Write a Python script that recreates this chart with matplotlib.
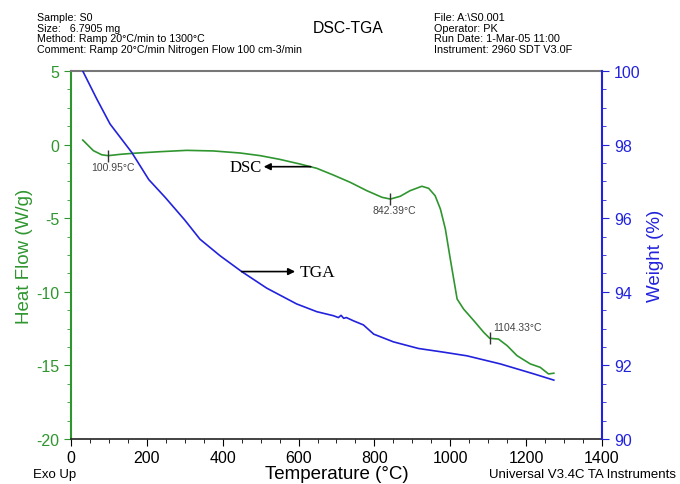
import matplotlib
matplotlib.use('Agg')
import matplotlib.pyplot as plt

# DSC curve (heat flow, W/g)
dscTemp = [31, 59, 81, 98, 130, 164, 235, 305, 375, 446, 499, 550, 604, 648, 692,
           736, 780, 820, 842, 868, 894, 925, 943, 960, 974, 987, 1000, 1009, 1018,
           1035, 1062, 1088, 1104, 1127, 1150, 1176, 1211, 1237, 1259, 1273]
dscFlow = [0.31, -0.41, -0.69, -0.75, -0.66, -0.59, -0.48, -0.39, -0.43, -0.57, -0.75,
           -1.0, -1.32, -1.61, -2.07, -2.56, -3.13, -3.58, -3.70, -3.51, -3.13, -2.83,
           -2.97, -3.47, -4.38, -5.73, -7.77, -9.13, -10.49, -11.17, -11.96, -12.75,
           -13.16, -13.21, -13.66, -14.34, -14.90, -15.13, -15.58, -15.53]

# TGA curve (weight, %)
tgaTemp = [31, 68, 103, 160, 205, 248, 300, 340, 393, 450, 516, 595, 648, 692, 705,
           712, 719, 726, 745, 771, 798, 850, 916, 982, 1044, 1132, 1220, 1273]
tgaWeight = [100.0, 99.24, 98.56, 97.79, 97.05, 96.57, 95.95, 95.43, 94.98, 94.55,
             94.10, 93.67, 93.46, 93.35, 93.30, 93.36, 93.28, 93.30, 93.21, 93.10,
             92.85, 92.64, 92.46, 92.36, 92.26, 92.04, 91.77, 91.60]

# labelled points on the DSC curve
peakTemp = [98, 842, 1104]
peakFlow = [-0.75, -3.70, -13.16]
peakText = ['100.95°C', '842.39°C', '1104.33°C']
peakTextPos = [(111, -1.52), (852, -4.44), (1177, -12.39)]

headerLeft = ['Sample: S0', 'Size:   6.7905 mg', 'Method: Ramp 20°C/min to 1300°C',
              'Comment: Ramp 20°C/min Nitrogen Flow 100 cm-3/min']
headerRight = ['File: A:\\S0.001', 'Operator: PK', 'Run Date: 1-Mar-05 11:00',
               'Instrument: 2960 SDT V3.0F']

green = '#2f962f'
blue = '#2222dd'

plt.rcParams['font.family'] = ['Liberation Sans', 'DejaVu Sans']
plt.rcParams['axes.unicode_minus'] = False

fig = plt.figure(figsize=(6.8, 4.85), dpi=100)
ax = fig.add_axes([0.1044, 0.0928, 0.7809, 0.7587])
ax2 = ax.twinx()

ax.plot(dscTemp, dscFlow, color=green, lw=1.2)
ax2.plot(tgaTemp, tgaWeight, color=blue, lw=1.2)

ax.set_xlim(0, 1400)
ax.set_ylim(-20, 5)
ax2.set_ylim(90, 100)
ax.set_xticks(range(0, 1401, 200))
ax.set_xticks(range(0, 1401, 50), minor=True)
ax.set_yticks(range(-20, 6, 5))
ax.set_yticks([-20 + 1.25 * i for i in range(21)], minor=True)
ax2.set_yticks(range(90, 101, 2))
ax2.set_yticks([90 + 0.5 * i for i in range(21)], minor=True)

ax.tick_params(axis='x', which='major', length=5, labelsize=11.5, colors='black', pad=3)
ax.tick_params(axis='x', which='minor', length=3)
ax.tick_params(axis='y', which='major', length=5, labelsize=11.5, colors=green)
ax.tick_params(axis='y', which='minor', length=3, colors=green)
ax2.tick_params(axis='y', which='major', length=5, labelsize=11.5, colors=blue)
ax2.tick_params(axis='y', which='minor', length=3, colors=blue)

ax.spines['left'].set_color(green)
ax.spines['left'].set_linewidth(1.5)
ax.spines['right'].set_visible(False)
ax.spines['top'].set_color('#777777')
ax.spines['top'].set_linewidth(1.5)
ax.spines['bottom'].set_color('#222222')
ax.spines['bottom'].set_linewidth(1.2)
ax2.spines['left'].set_visible(False)
ax2.spines['top'].set_visible(False)
ax2.spines['bottom'].set_visible(False)
ax2.spines['right'].set_color(blue)
ax2.spines['right'].set_linewidth(1.5)

ax.set_ylabel('Heat Flow (W/g)', color=green, fontsize=13.5, labelpad=2)
ax2.set_ylabel('Weight (%)', color=blue, fontsize=13.5, labelpad=5)
ax.set_xlabel('Temperature (°C)', fontsize=13.5, labelpad=0)

# peak markers and labels
ax.plot(peakTemp, peakFlow, ls='none', marker='|', ms=9, mew=1.0, color='#333333')
for txt, pos in zip(peakText, peakTextPos):
    ax.text(pos[0], pos[1], txt, fontsize=7.5, color='#444444', ha='center', va='center')

# curve labels with arrows
arrowStyle = dict(arrowstyle='-|>', color='black', lw=1.2, mutation_scale=10,
                  shrinkA=0, shrinkB=0)
ax.annotate('', xy=(508, -1.5), xytext=(632, -1.5), arrowprops=arrowStyle)
ax.text(504, -1.5, 'DSC', fontsize=12, family='Liberation Serif', va='center', ha='right')
ax2.annotate('', xy=(591, 94.55), xytext=(450, 94.55), arrowprops=arrowStyle)
ax2.text(604, 94.55, 'TGA', fontsize=12.5, family='Liberation Serif', va='center', ha='left')

# header
for i, line in enumerate(headerLeft):
    fig.text(37 / 680, 1 - (18.3 + 10.6 * i) / 485, line, fontsize=7.7, va='center')
for i, line in enumerate(headerRight):
    fig.text(434 / 680, 1 - (18.3 + 10.6 * i) / 485, line, fontsize=7.8, va='center')
fig.text(348 / 680, 1 - 28.3 / 485, 'DSC-TGA', fontsize=11.3, ha='center', va='center')

fig.text(33 / 680, 1 - 475 / 485, 'Exo Up', fontsize=9.5, va='center')
fig.text(676 / 680, 1 - 475 / 485, 'Universal V3.4C TA Instruments', fontsize=9.5,
         ha='right', va='center')

fig.savefig('out.png', dpi=100)
